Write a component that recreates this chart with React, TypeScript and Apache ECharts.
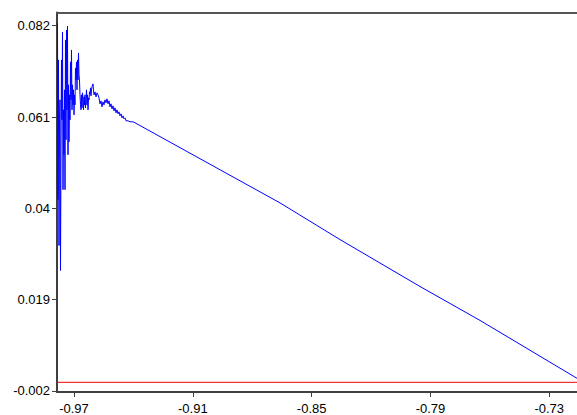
import React, { useEffect, useRef } from "react";
import * as echarts from "echarts";

const xValues: number[] = [
  -0.97834, -0.97809, -0.97783, -0.97758, -0.97733, -0.97708, -0.97682, -0.97657, -0.97632, -0.97607,
  -0.97581, -0.97556, -0.97531, -0.97506, -0.9748, -0.97455, -0.9743, -0.97404, -0.97379, -0.97354,
  -0.97329, -0.97303, -0.97278, -0.97253, -0.97228, -0.97202, -0.97177, -0.97152, -0.97127, -0.97101,
  -0.97076, -0.97051, -0.97026, -0.97, -0.96975, -0.9695, -0.96925, -0.96899, -0.96874, -0.96849,
  -0.96824, -0.96798, -0.96773, -0.96748, -0.96723, -0.96697, -0.96672, -0.96647, -0.96622, -0.96596,
  -0.96571, -0.96546, -0.96521, -0.96495, -0.9647, -0.96445, -0.9642, -0.96394, -0.96369, -0.96344,
  -0.96319, -0.96293, -0.96268, -0.96243, -0.96218, -0.96192, -0.96167, -0.96142, -0.96117, -0.96091,
  -0.96066, -0.96041, -0.96016, -0.9599, -0.9594, -0.95889, -0.95839, -0.95788, -0.95738, -0.95687,
  -0.95637, -0.95586, -0.95536, -0.95485, -0.95435, -0.95384, -0.95334, -0.95283, -0.95233, -0.95182,
  -0.95132, -0.95081, -0.95031, -0.9498, -0.9493, -0.94879, -0.94829, -0.94778, -0.94728, -0.94677,
  -0.94627, -0.94576, -0.94526, -0.94475, -0.94425, -0.94374, -0.94273, -0.94172, -0.94021, -0.9392,
  -0.86597, -0.83567, -0.79527, -0.76497, -0.71599,
];

const yValues: number[] = [
  0.08262, 0.042, 0.07413, 0.03144, 0.06036, 0.06495, 0.0257, 0.05347, 0.07413, 0.06036,
  0.08055, 0.04429, 0.06265, 0.05232, 0.06724, 0.04429, 0.07872, 0.05577, 0.08101, 0.06265,
  0.08193, 0.05232, 0.06839, 0.05531, 0.06609, 0.06036, 0.07367, 0.06495, 0.07642, 0.06265,
  0.06839, 0.0638, 0.06724, 0.0615, 0.06609, 0.0638, 0.07229, 0.06954, 0.07367, 0.06724,
  0.07413, 0.06954, 0.07573, 0.07068, 0.06954, 0.06609, 0.0638, 0.06265, 0.06609, 0.06311,
  0.06655, 0.06495, 0.06265, 0.06563, 0.0638, 0.06609, 0.06311, 0.06495, 0.06724, 0.0638,
  0.06609, 0.06265, 0.0654, 0.06495, 0.06678, 0.06632, 0.0677, 0.06586, 0.06724, 0.06793,
  0.06839, 0.06862, 0.06724, 0.06609, 0.06678, 0.06563, 0.06655, 0.06609, 0.0654, 0.06403,
  0.06472, 0.06334, 0.06449, 0.0638, 0.06495, 0.06426, 0.06517, 0.06403, 0.06472, 0.06334,
  0.06403, 0.06288, 0.06357, 0.06242, 0.06311, 0.06196, 0.06265, 0.06173, 0.06219, 0.06127,
  0.06173, 0.06081, 0.06127, 0.06058, 0.06081, 0.06013, 0.06013, 0.0599, 0.0599, 0.05967,
  0.04125, 0.03282, 0.02203, 0.01423, 0.00092,
];

const baselineX: number[] = [-0.97859, -0.71599];
const baselineY: number[] = [0, 0];

const xTicks: number[] = [-0.97, -0.91, -0.85, -0.79, -0.73];
const yTicks: number[] = [-0.002, 0.019, 0.04, 0.061, 0.082];

const X_MIN = -0.97859;
const X_MAX = -0.71599;
const Y_MIN = -0.00223;
const Y_MAX = 0.08503;

const FONT = "'Liberation Sans', Arial, sans-serif";

export default function App() {
  const ref = useRef<HTMLDivElement>(null);

  useEffect(() => {
    if (!ref.current) return;
    const chart = echarts.init(ref.current, undefined, { renderer: "svg" });
    const axisColor = "#404040";
    chart.setOption({
      animation: false,
      backgroundColor: "#ffffff",
      grid: { left: 57, top: 12.5, right: 0, bottom: 22.3, containLabel: false },
      xAxis: [
        {
          type: "value",
          min: X_MIN,
          max: X_MAX,
          position: "bottom",
          axisLine: { show: true, onZero: false, lineStyle: { color: axisColor, width: 2 } },
          axisTick: {
            show: true,
            length: 5,
            customValues: xTicks,
            lineStyle: { color: axisColor, width: 1 },
          },
          axisLabel: {
            show: true,
            customValues: xTicks,
            margin: 10,
            color: "#000",
            fontSize: 13,
            fontFamily: FONT,
            formatter: (v: number) => String(v),
          },
          splitLine: { show: false },
        },
        {
          type: "value",
          min: X_MIN,
          max: X_MAX,
          position: "top",
          axisLine: { show: true, onZero: false, lineStyle: { color: "#555", width: 2 } },
          axisTick: { show: false },
          axisLabel: { show: false },
          splitLine: { show: false },
        },
      ],
      yAxis: {
        type: "value",
        min: Y_MIN,
        max: Y_MAX,
        axisLine: { show: true, onZero: false, lineStyle: { color: axisColor, width: 2 } },
        axisTick: {
          show: true,
          length: 5,
          customValues: yTicks,
          lineStyle: { color: axisColor, width: 1 },
        },
        axisLabel: {
          show: true,
          customValues: yTicks,
          margin: 7,
          color: "#000",
          fontSize: 13,
          fontFamily: FONT,
          formatter: (v: number) => String(v),
        },
        splitLine: { show: false },
      },
      series: [
        {
          type: "line",
          name: "baseline",
          data: baselineX.map((x, i) => [x, baselineY[i]]),
          showSymbol: false,
          lineStyle: { color: "#ee0000", width: 1 },
          silent: true,
        },
        {
          type: "line",
          name: "signal",
          data: xValues.map((x, i) => [x, yValues[i]]),
          showSymbol: false,
          lineStyle: { color: "#0000ff", width: 1 },
          silent: true,
        },
      ],
    });
    return () => chart.dispose();
  }, []);

  return (
    <div
      ref={ref}
      style={{ position: "absolute", left: 0, top: 0, width: 577, height: 415, background: "#fff" }}
    />
  );
}
